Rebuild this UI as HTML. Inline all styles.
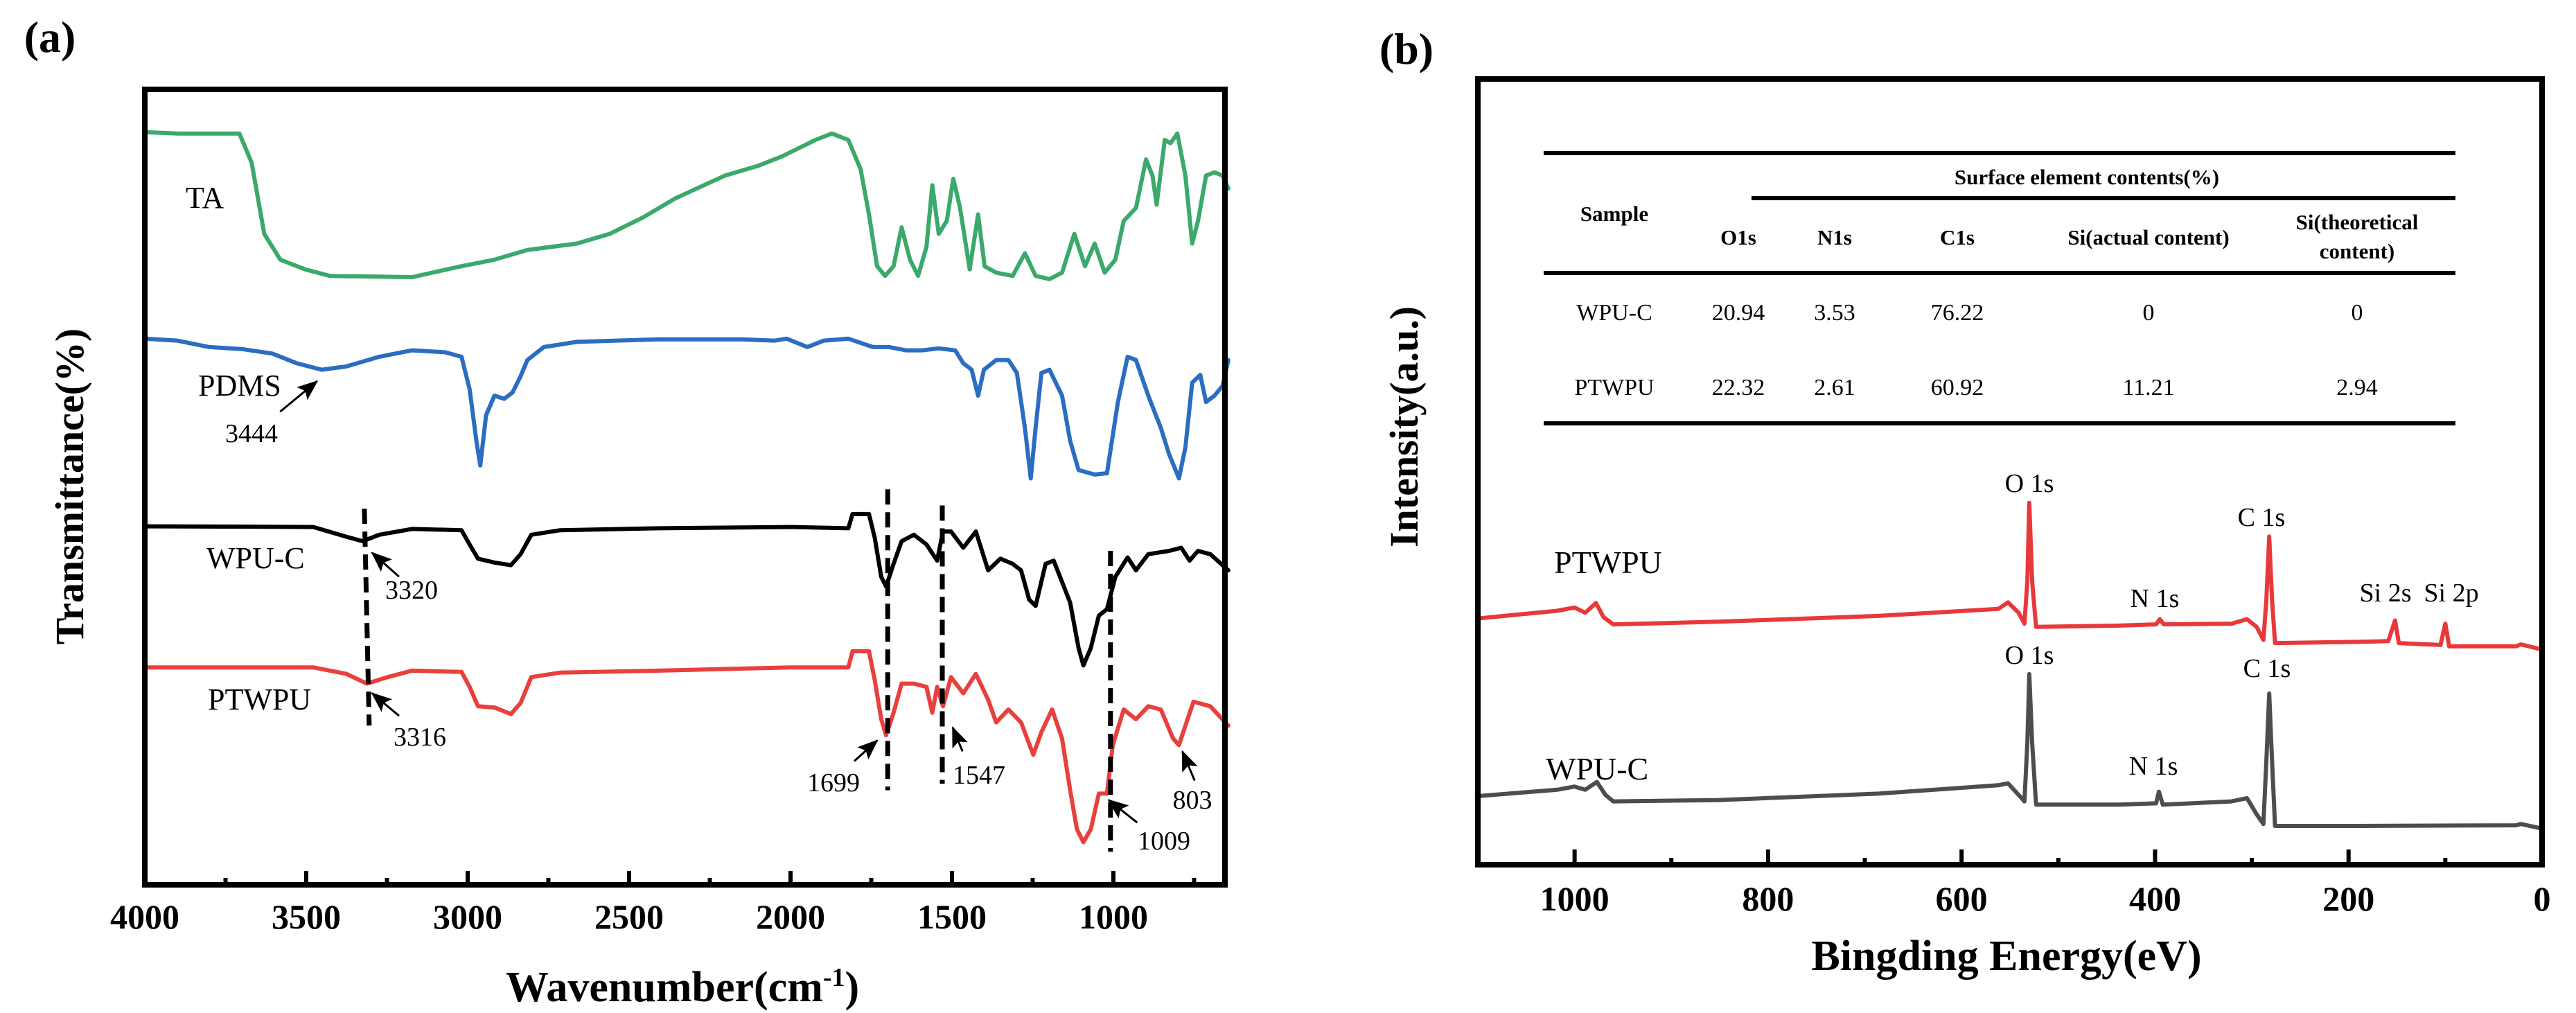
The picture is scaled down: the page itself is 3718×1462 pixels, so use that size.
<!DOCTYPE html>
<html><head><meta charset="utf-8"><style>
html,body{margin:0;padding:0;background:#fff;}
svg{display:block;font-family:"Liberation Serif",serif;}
svg text{font-family:"Liberation Serif",serif;}
</style></head><body>
<svg id="fig" width="3718" height="1462" viewBox="0 0 3718 1462" xmlns="http://www.w3.org/2000/svg" font-family="Liberation Serif, serif">
<defs>
<marker id="ah2" markerWidth="30" markerHeight="24" refX="28" refY="12" orient="auto" markerUnits="userSpaceOnUse"><path d="M0,0 L30,12 L0,24 L6,12 z" fill="#000"/></marker></defs>
<g id="panelA"></g>
<g id="panelB"></g>
</svg>
<script>
// ---------- Panel (a) FTIR data ----------
const taWn=[4000,3900,3707,3669,3630,3580,3503,3427,3172,3019,2917,2815,2662,2560,2458,2356,2203,2101,2025,1923,1872,1821,1783,1757,1732,1707,1681,1656,1630,1605,1579,1561,1541,1516,1496,1475,1445,1419,1399,1363,1312,1274,1241,1198,1159,1121,1088,1058,1027,994,968,930,899,879,866,841,823,802,777,756,738,713,687,662,644];
const taVal=[1164,1162,1162,1117,1007,967,952,942,940,957,967,982,992,1007,1032,1062,1097,1112,1127,1152,1162,1152,1107,1037,957,942,957,1017,967,942,987,1082,1007,1027,1092,1047,952,1037,957,947,942,977,942,937,947,1007,957,992,947,967,1027,1047,1122,1097,1052,1152,1147,1162,1097,992,1027,1097,1102,1097,1077];
const pdmsWn=[4000,3900,3800,3700,3605,3529,3452,3376,3274,3172,3070,3019,2994,2973,2961,2943,2917,2887,2861,2836,2815,2764,2662,2407,2152,2050,2012,1948,1897,1821,1745,1694,1643,1592,1541,1490,1465,1439,1419,1401,1363,1325,1299,1274,1256,1241,1223,1198,1159,1134,1108,1058,1020,986,956,930,892,853,828,797,777,756,731,713,687,662,644];
const pdmsVal=[845,842,832,829,822,807,797,802,817,827,824,817,767,687,649,727,757,752,762,787,812,832,840,844,844,842,845,832,842,845,832,832,827,827,830,827,807,797,757,797,812,812,792,707,629,707,792,797,757,687,642,635,637,747,817,812,757,707,667,629,677,777,789,747,757,772,812];
const wpuWn=[4000,3478,3376,3325,3274,3172,3019,2994,2968,2917,2866,2836,2803,2713,2407,1999,1821,1808,1757,1739,1719,1704,1681,1656,1618,1579,1546,1528,1503,1465,1426,1388,1350,1312,1286,1261,1241,1210,1185,1134,1108,1093,1070,1045,1020,994,956,930,892,828,790,764,738,700,644];
const wpuVal=[555,554,539,532,542,551,549,527,505,499,495,512,542,549,552,554,552,574,574,537,477,462,497,532,542,527,502,547,547,522,547,487,505,497,487,442,432,497,502,437,367,340,367,417,427,477,507,487,512,517,522,502,517,512,487];
const ptwWn=[4000,3478,3376,3312,3248,3172,3019,2994,2968,2917,2866,2836,2803,2713,2407,1999,1821,1808,1757,1739,1719,1704,1681,1656,1618,1579,1561,1546,1528,1503,1465,1426,1388,1363,1325,1286,1248,1223,1190,1159,1134,1113,1093,1070,1045,1020,1002,968,930,892,853,815,797,777,752,700,644];
const ptwVal=[337,337,327,312,322,332,330,307,277,275,265,282,322,329,332,337,337,362,362,317,257,232,267,312,312,307,267,307,277,322,297,327,287,252,272,252,202,237,272,227,147,87,67,87,142,142,217,272,257,277,272,227,217,247,284,277,247];
const aTicksMajor=[4000,3500,3000,2500,2000,1500,1000];
const aTicksMinor=[3750,3250,2750,2250,1750,1250,750];
const aDashed=[3320,1699,1530,1009];
// ---------- Panel (b) XPS data ----------
const xpsPtwEv=[1101,1018,1000,989,978,970,960,852,686,562,552,541,535,532,530,527,523,437,399,395,391,321,305,295,288,285,282,279,276,188,159,152,148,105,100,96,27,22,0];
const xpsPtwVal=[381,393,398,390,405,383,372,376,385,396,406,390,373,438,560,438,368,370,372,380,372,373,380,368,348,408,508,408,343,345,346,378,343,340,373,338,338,341,333];
const xpsWpuEv=[1101,1018,1000,989,977,968,960,852,686,562,552,541,535,532,530,527,523,437,399,396,392,321,305,295,288,285,282,279,276,188,27,22,0];
const xpsWpuVal=[106,116,121,116,128,108,98,100,110,123,126,108,98,188,295,188,93,93,95,113,93,98,103,78,63,158,265,158,60,60,61,63,56];
const bTicksMajor=[1000,800,600,400,200,0];
const bTicksMinor=[900,700,500,300,100];
const tableHead=["O1s","N1s","C1s","Si(actual content)"];
const tableRows=[["WPU-C","20.94","3.53","76.22","0","0"],["PTWPU","22.32","2.61","60.92","11.21","2.94"]];

const NS="http://www.w3.org/2000/svg";
const FF='"Liberation Serif", serif';
function mk(parent,tag,attrs,text){const e=document.createElementNS(NS,tag);for(const k in attrs)e.setAttribute(k,attrs[k]);if(tag==='text')e.setAttribute('font-family',FF);if(text!==undefined)e.textContent=text;parent.appendChild(e);return e;}

const A={l:209,r:1768,t:129,b:1277};
const xA=wn=>A.l+(4000-wn)*(1607-209)/3000;
const yA=v=>1278-v*0.934;
const B={l:2133,r:3669,t:114,b:1248};
const xB=ev=>B.l+(1100-ev)*(B.r-B.l)/1100;
const yB=v=>1248-v*0.9326;

const pa=document.getElementById('panelA');
const pb=document.getElementById('panelB');

function line(parent,xs,ys,fx,fy,color,w,name){
  let d='';for(let i=0;i<xs.length;i++){d+=(i?'L':'M')+fx(xs[i]).toFixed(1)+','+fy(ys[i]).toFixed(1);}
  const p=mk(parent,'path',{d:d,fill:'none',stroke:color,'stroke-width':w,'stroke-linejoin':'round','stroke-linecap':'round'});
  
  
  return p;
}
line(pa,taWn,taVal,xA,yA,'#3aa96b',6,'ta-series');
line(pa,pdmsWn,pdmsVal,xA,yA,'#2b6dc2',6,'pdms-series');
line(pa,wpuWn,wpuVal,xA,yA,'#000000',6,'wpu-c-series');
line(pa,ptwWn,ptwVal,xA,yA,'#e8403d',6,'ptwpu-series');
const dashTop=[785,755,780,850], dashBot=[1120,1220,1210,1315];
aDashed.forEach((wn,i)=>{
  const za=zy=>129+(zy-137)*0.934;
  const x1=xA(wn), x2=xA(wn)+(i===0?7:0);
  const l=mk(pa,'line',{x1:x1,y1:za(dashTop[i]),x2:x2,y2:za(dashBot[i]),stroke:'#000','stroke-width':7,'stroke-dasharray':'22,11'});
  
  
});
const fa=mk(pa,'rect',{x:A.l,y:A.t,width:A.r-A.l,height:A.b-A.t,fill:'none',stroke:'#000','stroke-width':8});


aTicksMajor.forEach(t=>{
  const tk=mk(pa,'line',{x1:xA(t),y1:A.b,x2:xA(t),y2:A.b-20,stroke:'#000','stroke-width':6});
  
  
  const lb=mk(pa,'text',{x:xA(t),y:1340,'text-anchor':'middle','font-size':50,'font-weight':'bold'},String(t));
  
  
});
aTicksMinor.forEach(t=>{
  const tk=mk(pa,'line',{x1:xA(t),y1:A.b,x2:xA(t),y2:A.b-10,stroke:'#000','stroke-width':6});
  
  
});
function zA(zx,zy){return [209+(zx-175)*1.1838,129+(zy-137)*0.934];}
const arrowsA=[[340,635,385,588],[485,890,452,853],[485,1105,452,1070],[1040,1175,1068,1143],[1172,1160,1160,1123],[1385,1270,1350,1235],[1455,1205,1440,1160]];
arrowsA.forEach(a=>{const p=zA(a[0],a[1]),q=zA(a[2],a[3]);
  const l=mk(pa,'line',{x1:p[0],y1:p[1],x2:q[0],y2:q[1],stroke:'#000','stroke-width':3,'marker-end':'url(#ah2)'});
  
  
});
const labelsA=[["TA",268,300,44,'ta-label'],["PDMS",286,571,44,'pdms-label'],["WPU-C",298,820,44,'wpu-c-label'],["PTWPU",300,1024,44,'ptwpu-label'],
["3444",363,638,38,'peak-3444'],["3320",594,864,38,'peak-3320'],["3316",606,1076,38,'peak-3316'],["1699",1203,1142,38,'peak-1699'],["1547",1413,1131,38,'peak-1547'],["1009",1680,1226,38,'peak-1009'],["803",1721,1167,38,'peak-803']];
labelsA.forEach(l=>{const t=mk(pa,'text',{x:l[1],y:l[2],'font-size':l[3],'text-anchor':l[4].startsWith('peak')?'middle':'start'},l[0]);
  
  });
line(pb,xpsPtwEv,xpsPtwVal,xB,yB,'#e8393a',6,'xps-ptwpu-series');
line(pb,xpsWpuEv,xpsWpuVal,xB,yB,'#4d4d4d',6,'xps-wpu-c-series');
const fb=mk(pb,'rect',{x:B.l,y:B.t,width:B.r-B.l,height:B.b-B.t,fill:'none',stroke:'#000','stroke-width':8});


bTicksMajor.forEach(t=>{
  const tk=mk(pb,'line',{x1:xB(t),y1:B.b,x2:xB(t),y2:B.b-22,stroke:'#000','stroke-width':6});
  
  
  const lb=mk(pb,'text',{x:xB(t),y:1314,'text-anchor':'middle','font-size':50,'font-weight':'bold'},String(t));
  
  
});
bTicksMinor.forEach(t=>{
  const tk=mk(pb,'line',{x1:xB(t),y1:B.b,x2:xB(t),y2:B.b-10,stroke:'#000','stroke-width':6});
  
  
});
const labelsB=[["PTWPU",2243,827,46,'ptwpu-label'],["WPU-C",2231,1125,46,'wpu-c-label'],["O 1s",2929,710,38,'o1s-label'],["C 1s",3264,759,38,'c1s-label'],["N 1s",3110,876,38,'n1s-label'],["Si 2s",3443,868,38,'si2s-label'],["Si 2p",3538,868,38,'si2p-label'],["O 1s",2929,958,38,'o1s-label-2'],["C 1s",3272,977,38,'c1s-label-2'],["N 1s",3108,1118,38,'n1s-label-2']];
labelsB.forEach(l=>{const t=mk(pb,'text',{x:l[1],y:l[2],'font-size':l[3],'text-anchor':l[4].includes('wpu')?'start':'middle'},l[0]);
  
  });
const tb=mk(pb,'g',{});


[[2228,221,3544],[2528,286,3544],[2228,394,3544],[2228,611,3544]].forEach(r=>{
  const l=mk(tb,'line',{x1:r[0],y1:r[1],x2:r[2],y2:r[1],stroke:'#000','stroke-width':6});
  
  
});
function tt(txt,x,y,bold,name){const t=mk(tb,'text',{x:x,y:y,'text-anchor':'middle','font-size':bold?31:34,'font-weight':bold?'bold':'normal'},txt);
  
  }
tt("Surface element  contents(%)",3012,266,true,'table-group-header');
tt("Sample",2330,319,true,'table-sample-header');
const colX=[2509,2648,2825,3101,3402];
tableHead.forEach((h,i)=>tt(h,colX[i],353,true,'table-col-header'));
tt("Si(theoretical",3402,331,true,'table-col-header');
tt("content)",3402,373,true,'table-col-header');
tableRows.forEach((r,ri)=>{const y=ri?570:462;tt(r[0],2330,y,false,'table-sample-name');for(let c=1;c<6;c++)tt(r[c],colX[c-1],y,false,'table-cell');});
function title(txt,x,y,size,rot,name){const t=mk(document.getElementById('fig'),'text',{x:x,y:y,'text-anchor':'middle','font-size':size,'font-weight':'bold',transform:rot?'rotate(-90 '+x+' '+y+')':''},'');
  t.innerHTML=txt;
  
  }
title('Wavenumber(cm<tspan dy="-22" font-size="38">-1</tspan><tspan dy="22">)</tspan>',985,1445,62,false,'x-axis-title-a');
title('Transmittance(%)',120,702,58,true,'y-axis-title-a');
title('Bingding Energy(eV)',2896,1400,62,false,'x-axis-title-b');
title('Intensity(a.u.)',2046,616,58,true,'y-axis-title-b');
title('(a)',72,75,64,false,'panel-label-a');
title('(b)',2030,92,64,false,'panel-label-b');
</script>
</body></html>
